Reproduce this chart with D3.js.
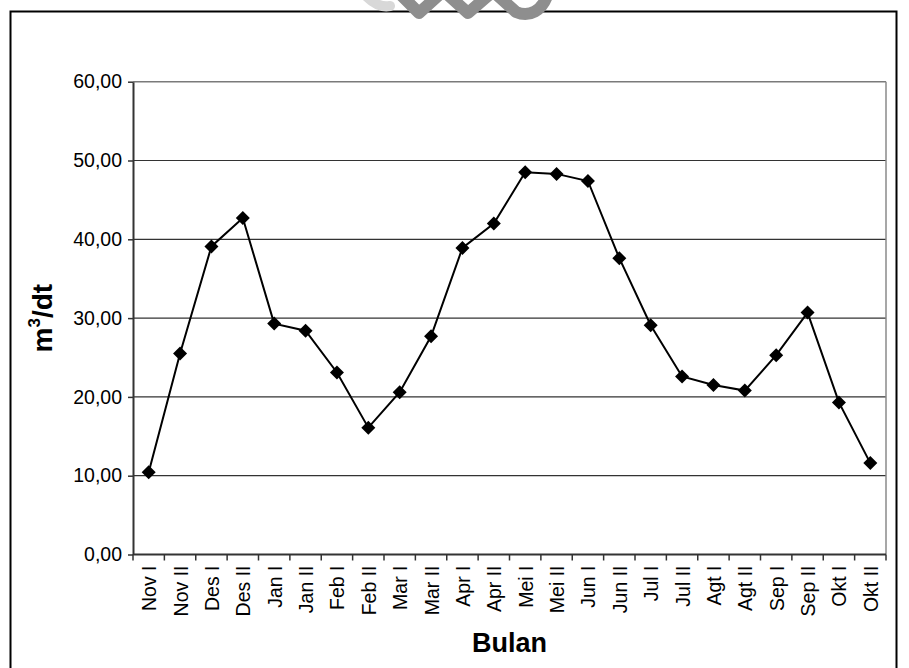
<!DOCTYPE html>
<html>
<head>
<meta charset="utf-8">
<script src="https://cdn.jsdelivr.net/npm/d3@7"></script>
<style>
  html, body { margin: 0; padding: 0; background: #fff; }
  svg { display: block; font-family: "Liberation Sans", Arial, sans-serif; }
</style>
</head>
<body>
<svg id="chart" width="909" height="668"></svg>
<script>
// Half-monthly periods (Nov–Okt)
const categories = ["Nov I","Nov II","Des I","Des II","Jan I","Jan II","Feb I","Feb II",
  "Mar I","Mar II","Apr I","Apr II","Mei I","Mei II","Jun I","Jun II",
  "Jul I","Jul II","Agt I","Agt II","Sep I","Sep II","Okt I","Okt II"];

// Discharge, m3/dt
const debit = [10.45, 25.5, 39.1, 42.7, 29.3, 28.4, 23.1, 16.1,
  20.6, 27.7, 38.9, 42.0, 48.5, 48.3, 47.4, 37.6,
  29.1, 22.6, 21.5, 20.8, 25.3, 30.7, 19.3, 11.6];

const yTicks = [0, 10, 20, 30, 40, 50, 60];
const yTickLabels = ["0,00","10,00","20,00","30,00","40,00","50,00","60,00"];

const svg = d3.select("#chart");
const plot = { left: 133, right: 886, top: 81.7, bottom: 554.5 };

// Outer frame
svg.append("rect")
  .attr("x", 10.5).attr("y", 11.5)
  .attr("width", 886).attr("height", 670)
  .attr("fill", "none").attr("stroke", "#000").attr("stroke-width", 2);

// Grey emblem fragment at the top edge
svg.append("path")
  .attr("d", "M366,-4 C372,2 380,8 390,6")
  .attr("fill", "none").attr("stroke", "#d8d8d8").attr("stroke-width", 10)
  .attr("stroke-linecap", "round");
svg.append("path")
  .attr("d", "M400,-6 L419,13 L440,-6 M447,-6 L468,13 L490,-6 M496,-6 L516,12 C530,18 542,10 547,-4")
  .attr("fill", "none").attr("stroke", "#8e8e8e").attr("stroke-width", 12)
  .attr("stroke-linecap", "round").attr("stroke-linejoin", "round");

const x = d3.scaleBand().domain(categories).range([plot.left, plot.right]).padding(0);
const y = d3.scaleLinear().domain([0, 60]).range([plot.bottom, plot.top]);

// Gridlines
svg.append("g").selectAll("line")
  .data(yTicks.filter(d => d > 0 && d < 60))
  .join("line")
  .attr("x1", plot.left).attr("x2", plot.right)
  .attr("y1", d => y(d)).attr("y2", d => y(d))
  .attr("stroke", "#333").attr("stroke-width", 1.2);

// Plot area frame (top and right in grey)
svg.append("line")
  .attr("x1", plot.left).attr("x2", plot.right)
  .attr("y1", y(60)).attr("y2", y(60))
  .attr("stroke", "#7a7a7a").attr("stroke-width", 1.5);
svg.append("line")
  .attr("x1", plot.right).attr("x2", plot.right)
  .attr("y1", plot.top).attr("y2", plot.bottom)
  .attr("stroke", "#8a8a8a").attr("stroke-width", 1.5);

// Y axis
const yAxis = d3.axisLeft(y)
  .tickValues(yTicks)
  .tickFormat((d, i) => yTickLabels[i])
  .tickSize(5).tickSizeOuter(0).tickPadding(6);
const gy = svg.append("g").attr("transform", `translate(${plot.left},0)`).call(yAxis);
gy.select(".domain").attr("stroke", "#333").attr("stroke-width", 2);
gy.selectAll(".tick line").attr("stroke", "#333").attr("stroke-width", 1.5);
gy.selectAll(".tick text")
  .attr("font-size", 19.5).attr("fill", "#000")
  .attr("font-family", "'Liberation Sans', Arial, sans-serif");

// X axis: boundary ticks between categories
svg.append("line")
  .attr("x1", plot.left).attr("x2", plot.right)
  .attr("y1", plot.bottom).attr("y2", plot.bottom)
  .attr("stroke", "#333").attr("stroke-width", 2);
const bounds = categories.map(c => x(c)).concat([plot.right]);
svg.append("g").selectAll("line")
  .data(bounds)
  .join("line")
  .attr("x1", d => d).attr("x2", d => d)
  .attr("y1", plot.bottom).attr("y2", plot.bottom + 6)
  .attr("stroke", "#333").attr("stroke-width", 1.5);

svg.append("g").selectAll("text")
  .data(categories)
  .join("text")
  .attr("transform", d => `translate(${x(d) + x.bandwidth() / 2 + 7.5},${plot.bottom + 11}) rotate(-90)`)
  .attr("text-anchor", "end")
  .attr("font-size", 19.5)
  .attr("fill", "#000")
  .text(d => d);

// Series line
const line = d3.line()
  .x((d, i) => x(categories[i]) + x.bandwidth() / 2)
  .y(d => y(d));
svg.append("path")
  .datum(debit)
  .attr("d", line)
  .attr("fill", "none")
  .attr("stroke", "#000")
  .attr("stroke-width", 2);

// Diamond markers
const squareDiamond = {
  draw(ctx, size) {
    const r = Math.sqrt(size / 2);
    ctx.moveTo(0, -r); ctx.lineTo(r, 0); ctx.lineTo(0, r); ctx.lineTo(-r, 0); ctx.closePath();
  }
};
svg.append("g").selectAll("path")
  .data(debit)
  .join("path")
  .attr("transform", (d, i) => `translate(${x(categories[i]) + x.bandwidth() / 2},${y(d)})`)
  .attr("d", d3.symbol(squareDiamond, 98))
  .attr("fill", "#000");

// Axis titles
const yTitle = svg.append("text")
  .attr("transform", `translate(52,${(plot.top + plot.bottom) / 2}) rotate(-90)`)
  .attr("text-anchor", "middle")
  .attr("font-size", 28)
  .attr("font-weight", "bold")
  .attr("fill", "#000");
yTitle.append("tspan").text("m");
yTitle.append("tspan").attr("font-size", 17).attr("dy", -12).text("3");
yTitle.append("tspan").attr("dy", 12).text("/dt");

svg.append("text")
  .attr("x", (plot.left + plot.right) / 2)
  .attr("y", 652)
  .attr("text-anchor", "middle")
  .attr("font-size", 27)
  .attr("font-weight", "bold")
  .attr("fill", "#000")
  .text("Bulan");
</script>
</body>
</html>
